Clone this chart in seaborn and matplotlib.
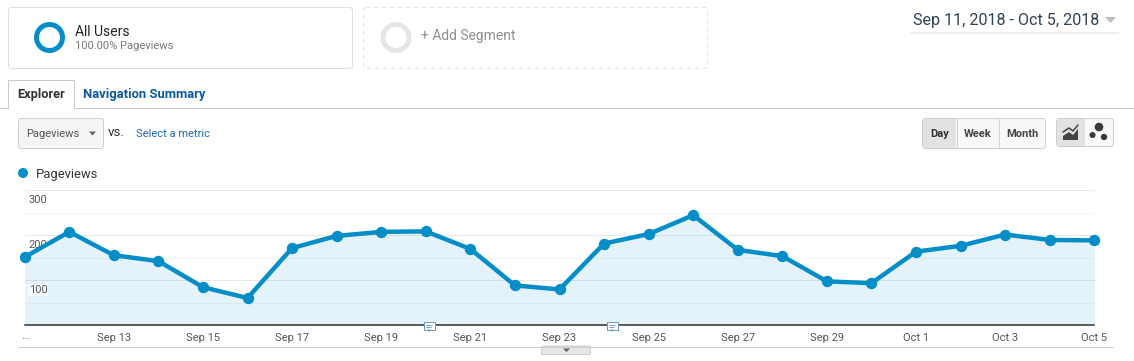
"""Analytics pageviews panel, daily values with the report chrome around it."""
import matplotlib
matplotlib.use('Agg')
import matplotlib.pyplot as plt
from matplotlib.patches import FancyBboxPatch, Rectangle, Polygon, Circle, Wedge
import pandas as pd
import seaborn as sns

days = ['Sep 11', 'Sep 12', 'Sep 13', 'Sep 14', 'Sep 15', 'Sep 16', 'Sep 17', 'Sep 18', 'Sep 19',
        'Sep 20', 'Sep 21', 'Sep 22', 'Sep 23', 'Sep 24', 'Sep 25', 'Sep 26', 'Sep 27', 'Sep 28',
        'Sep 29', 'Sep 30', 'Oct 1', 'Oct 2', 'Oct 3', 'Oct 4', 'Oct 5']
pageviews = [151, 207, 155, 142, 84, 60, 171, 198, 207, 208, 169, 88, 79, 181, 202, 244, 167,
             153, 97, 93, 163, 176, 201, 189, 188]
y_major = [100, 200, 300]
y_minor = [50, 150, 250]
x_labels = ['Sep 13', 'Sep 15', 'Sep 17', 'Sep 19', 'Sep 21', 'Sep 23', 'Sep 25', 'Sep 27',
            'Sep 29', 'Oct 1', 'Oct 3', 'Oct 5']

BLUE = '#058dc7'
W, H = 1134, 361
PX = 0.72  # one pixel in points at dpi 100

sns.set_theme(style='white')
plt.rcParams['font.family'] = ['Roboto', 'DejaVu Sans']

df = pd.DataFrame({'day': days, 'pageviews': pageviews})
df['pos'] = range(len(df))

fig = plt.figure(figsize=(W / 100, H / 100), dpi=100)

# chrome layer in pixel coordinates, y pointing down
bg = fig.add_axes([0, 0, 1, 1])
bg.set_xlim(0, W)
bg.set_ylim(H, 0)
bg.axis('off')


def box(x, y, w, h, fc='white', ec='#dfdfdf', ls='-', r=3):
    bg.add_patch(FancyBboxPatch((x + r, y + r), w - 2 * r, h - 2 * r,
                                boxstyle=f'round,pad={r},rounding_size={r}',
                                fc=fc, ec=ec, ls=ls, lw=PX))


def label(x, y, s, size=8, color='#333333', **kw):
    kw.setdefault('va', 'center')
    bg.text(x, y + 1.7, s, fontsize=size, color=color, **kw)


box(8.5, 7.5, 344, 61)
bg.add_patch(Wedge((49.5, 37.5), 15.5, 0, 360, width=5, fc=BLUE, ec='none'))
label(75, 30, 'All Users', 10, '#222222')
label(75, 44.5, '100.00% Pageviews', 8, '#777777')

box(363.5, 7.5, 344, 61, ec='#e2e2e2', ls=(0, (4, 4)))
bg.add_patch(Wedge((396, 37.5), 15.5, 0, 360, width=5, fc='#e6e6e6', ec='none'))
label(421, 34.5, '+ Add Segment', 10, '#8f8f8f')

label(913, 18.5, 'Sep 11, 2018 - Oct 5, 2018', 11.6, '#2f4254')
bg.add_patch(Polygon([[1105, 17], [1116, 17], [1110.5, 23]], fc='#bdbdbd', ec='none'))
bg.add_patch(Rectangle((910, 32), 209, 1.5, fc='#efefef', ec='none'))

# tab row
bg.plot([0, 7.5, 7.5, 73.5, 73.5, 1134], [107.5, 107.5, 79.5, 79.5, 107.5, 107.5],
        color='#c9c9c9', lw=PX)
label(17, 93, 'Explorer', 9.2, '#333333', fontweight='bold')
label(83, 93, 'Navigation Summary', 9.4, '#0b5a9e', fontweight='bold')

# metric selector
box(18.5, 118.5, 85, 30, fc='#f5f5f5', ec='#cfcfcf')
label(26, 132.5, 'Pageviews', 8, '#555555')
bg.add_patch(Polygon([[89, 131.5], [96, 131.5], [92.5, 135.5]], fc='#666666', ec='none'))
label(108, 130.5, 'vs.', 9.6, '#333333')
label(136, 132, 'Select a metric', 8, '#1a6bb0')

# interval buttons
box(922.5, 118.5, 123, 30, fc='#f8f8f8', ec='#cfcfcf')
bg.add_patch(Rectangle((923, 119), 33, 29, fc='#e2e2e2', ec='none'))
bg.plot([998.5, 998.5], [119, 148], color='#d5d5d5', lw=PX)
bg.plot([956.5, 956.5], [119, 148], color='#d0d0d0', lw=PX)
label(939.5, 132.5, 'Day', 8, '#333333', fontweight='bold', ha='center')
label(977.5, 132.5, 'Week', 8, '#444444', fontweight='bold', ha='center')
label(1022, 132.5, 'Month', 8, '#444444', fontweight='bold', ha='center')

# chart type buttons
box(1056.5, 118.5, 57, 28, fc='#f8f8f8', ec='#cfcfcf')
bg.add_patch(Rectangle((1057, 119), 28, 27, fc='#e2e2e2', ec='none'))
bg.add_patch(Polygon([[1063, 140], [1063, 136], [1069, 132], [1073, 135], [1078, 129], [1078, 140]],
                     fc='#444444', ec='none'))
bg.plot([1063, 1069, 1073, 1078], [132, 128, 131, 125], color='#444444', lw=1.1)
for cx, cy, r in [(1099, 127, 4.3), (1092.5, 135, 3), (1104, 137, 3.2)]:
    bg.add_patch(Circle((cx, cy), r, fc='#3a3a3a', ec='none'))

# legend row
bg.add_patch(Circle((23, 173), 5, fc=BLUE, ec='none'))
label(36, 172.5, 'Pageviews', 9.4, '#333333')

# bottom rule and expander tab
bg.plot([19, 1113], [346.5, 346.5], color='#cccccc', lw=PX)
box(541.5, 346, 49, 8.5, fc='#e6e6e6', ec='#cccccc', r=1.5)
bg.add_patch(Polygon([[563, 348.5], [570, 348.5], [566.5, 352]], fc='#666666', ec='none'))

# plot area, 25 to 1095 across and 190.3 to 325.3 down, so 100 views is 45 px
ax = fig.add_axes([24.7 / W, 1 - 325.0 / H, 1069.6 / W, 135 / H])
ax.patch.set_alpha(0)
ax.set_xlim(0, len(days) - 1)
ax.set_ylim(0, 300)
for v in y_major:
    ax.axhline(v, color='#e8e8e8', lw=PX, zorder=1, clip_on=False)
for v in y_minor:
    ax.axhline(v, color='#f4f4f4', lw=PX, zorder=1)
ax.fill_between(df['pos'], df['pageviews'], color=BLUE, alpha=0.105, lw=0, zorder=2)
sns.lineplot(data=df, x='pos', y='pageviews', ax=ax, color=BLUE, lw=3.2, marker='o', ms=8.2,
             mec=BLUE, mew=0, clip_on=False, zorder=4, errorbar=None)
for s in ['top', 'left', 'right']:
    ax.spines[s].set_visible(False)
ax.spines['bottom'].set_color('#333333')
ax.spines['bottom'].set_linewidth(1.1)
ax.set_xlabel('')
ax.set_ylabel('')
ax.set_xticks([days.index(d) for d in x_labels], x_labels, fontsize=8, color='#555555')
ax.tick_params(axis='x', length=0, pad=5.5)
ax.set_yticks([])
# value labels hang just under their gridlines
for v in y_major:
    ax.annotate(str(v), (0, v), xytext=(3, -7.1), textcoords='offset points', fontsize=8,
                color='#555555', va='center', zorder=3.5,
                bbox=dict(fc='white', ec='none', pad=0.5, alpha=0.7))
ax.annotate('…', (0, 0), xytext=(0, -8), textcoords='offset points', fontsize=8,
            color='#555555', ha='center', va='center', annotation_clip=False)

# annotation bubbles sitting on the axis line
top = fig.add_axes([0, 0, 1, 1])
top.set_xlim(0, W)
top.set_ylim(H, 0)
top.axis('off')
for cx in [429, 612]:
    top.add_patch(Rectangle((cx - 5.5, 321.5), 11, 8, fc='white', ec='#6d9cc0', lw=PX))
    top.add_patch(Polygon([[cx - 2, 329.5], [cx + 2, 329.5], [cx, 332]], fc='#6d9cc0', ec='none'))
    top.plot([cx - 3, cx + 3], [324.5, 324.5], color='#6d9cc0', lw=0.6)
    top.plot([cx - 3, cx + 1.5], [326.8, 326.8], color='#6d9cc0', lw=0.6)

fig.savefig('out.png', dpi=100)
